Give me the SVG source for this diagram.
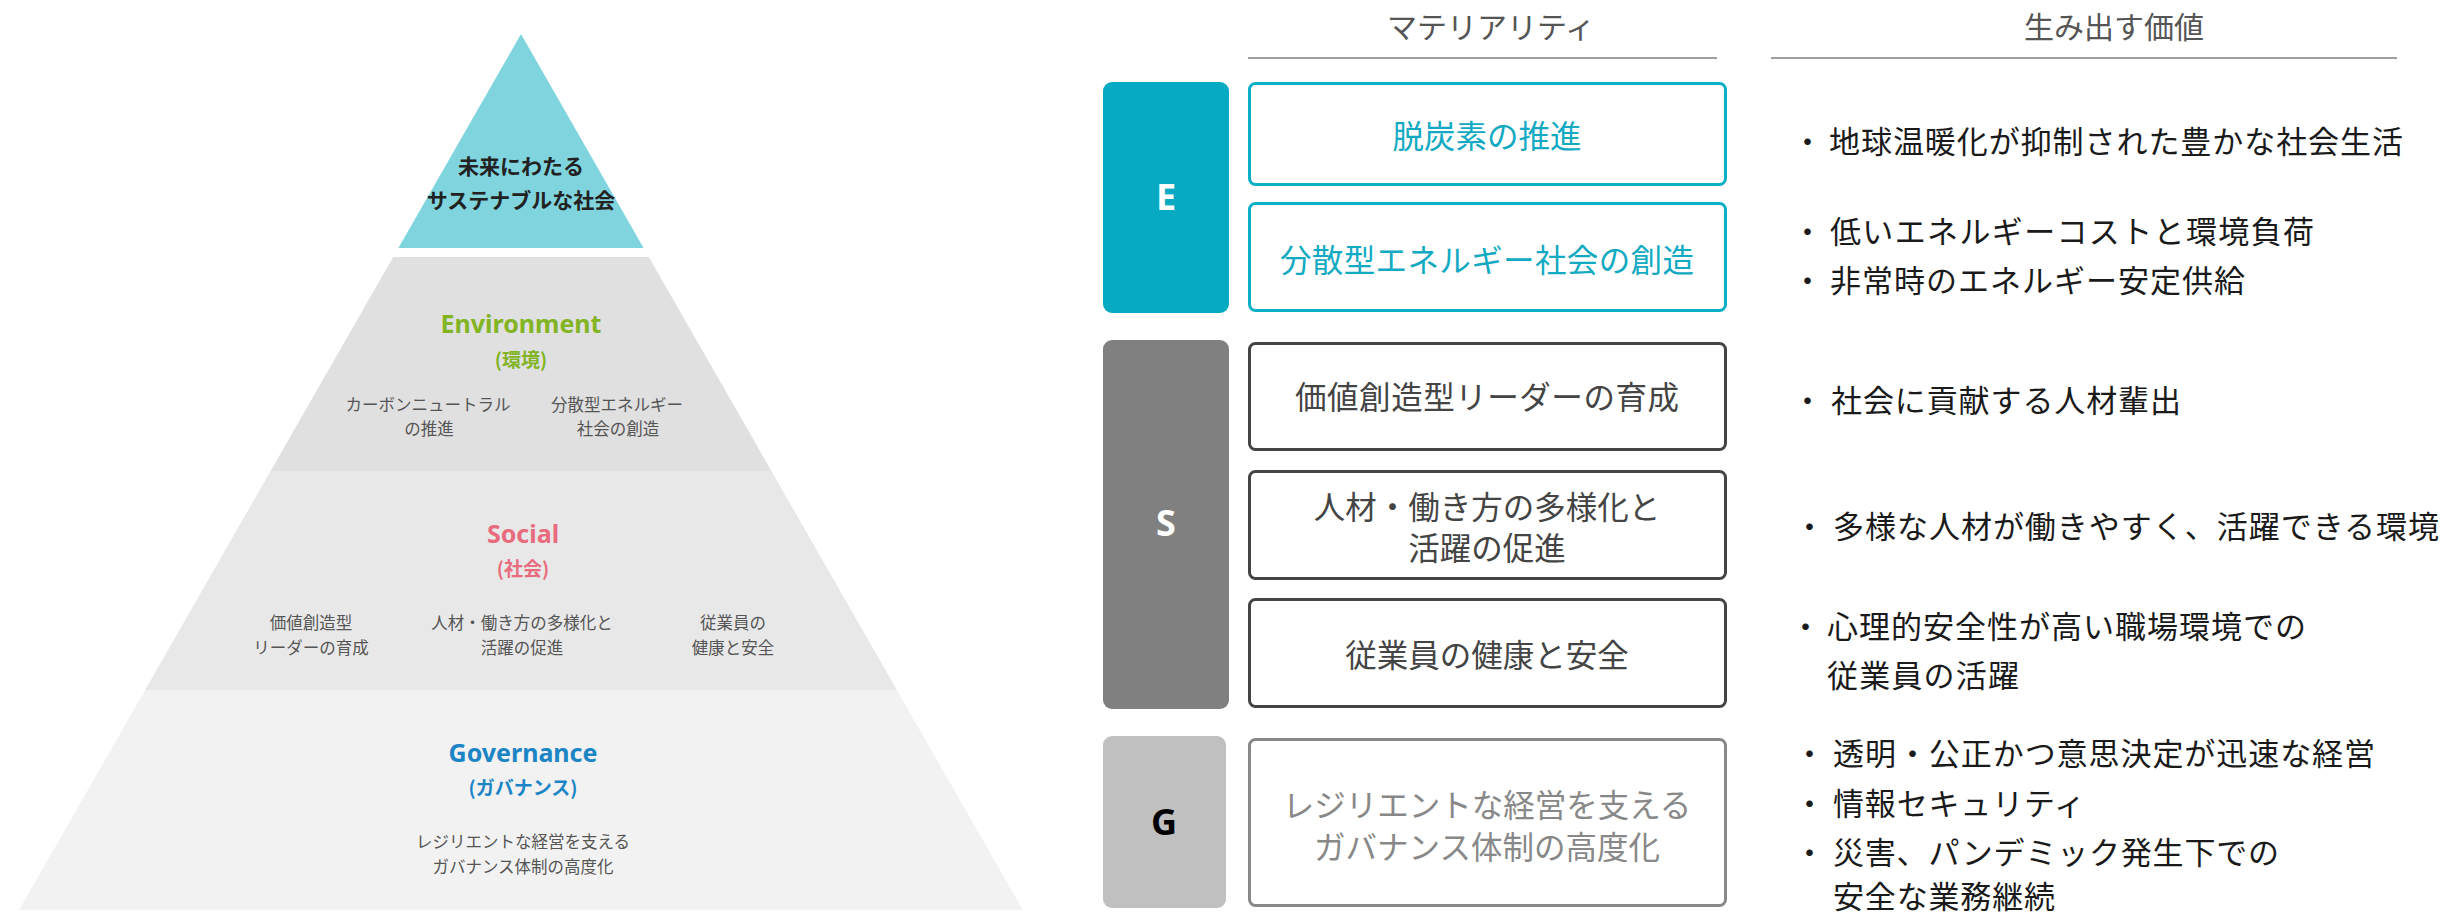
<svg xmlns="http://www.w3.org/2000/svg" width="2456" height="912" viewBox="0 0 2456 912">
<style>
text { font-family: "Noto Sans CJK JP", sans-serif; }
.lat { font-family: "Noto Sans", "Noto Sans CJK JP", sans-serif; }
.pt { font-size: 21px; font-weight: 700; fill: #222; text-anchor: middle; dominant-baseline: central; }
.pl { font-size: 25px; font-weight: 700; text-anchor: middle; }
.pp { font-size: 19px; font-weight: 700; text-anchor: middle; dominant-baseline: central; }
.ps { font-size: 16.5px; fill: #555; text-anchor: middle; dominant-baseline: central; }
.green { fill: #82b424; }
.pink { fill: #e86b7e; }
.blue { fill: #1b85c5; }
.hd { font-size: 30px; fill: #555; text-anchor: middle; dominant-baseline: central; }
.hline { stroke: #9e9e9e; stroke-width: 2; }
.cat { font-size: 36px; font-weight: 700; text-anchor: middle; }
.mb { fill: #fff; stroke-width: 3; }
.mbE { stroke: #0bafc6; }
.mbS { stroke: #444; }
.mbG { stroke: #888; }
.bx { font-size: 31.5px; text-anchor: middle; dominant-baseline: central; }
.bxE { fill: #12aac2; }
.bxS { fill: #444; }
.bxG { fill: #888; }
.val { font-size: 31px; fill: #1a1a1a; dominant-baseline: central; }
</style>

<g id="pyramid-top">
  <polygon points="521,34 643.6,248 398.4,248" fill="#7fd4de"/>
  <text class="pt" x="521" y="165">未来にわたる</text>
  <text class="pt" x="521" y="199">サステナブルな社会</text>
</g>

<g id="pyramid-environment">
  <polygon points="393.2,257 648.8,257 771.4,471 270.6,471" fill="#e0e0e0"/>
  <text class="lat pl green" x="521" y="333">Environment</text>
  <text class="pp green" x="521" y="358">(環境)</text>
  <text class="ps" x="428" y="404">カーボンニュートラル</text>
  <text class="ps" x="429" y="428">の推進</text>
  <text class="ps" x="617" y="404">分散型エネルギー</text>
  <text class="ps" x="618" y="428">社会の創造</text>
</g>

<g id="pyramid-social">
  <polygon points="270.6,471 771.4,471 896.9,690 145.1,690" fill="#e8e8e8"/>
  <text class="lat pl pink" x="523" y="543">Social</text>
  <text class="pp pink" x="523" y="567">(社会)</text>
  <text class="ps" x="311" y="622">価値創造型</text>
  <text class="ps" x="311" y="647">リーダーの育成</text>
  <text class="ps" x="522" y="622">人材・働き方の多様化と</text>
  <text class="ps" x="522" y="647">活躍の促進</text>
  <text class="ps" x="733" y="622">従業員の</text>
  <text class="ps" x="733" y="647">健康と安全</text>
</g>

<g id="pyramid-governance">
  <polygon points="145.1,690 896.9,690 1022.9,910 19.1,910" fill="#f2f2f2"/>
  <text class="lat pl blue" x="523" y="762">Governance</text>
  <text class="pp blue" x="523" y="786">(ガバナンス)</text>
  <text class="ps" x="523" y="841">レジリエントな経営を支える</text>
  <text class="ps" x="523" y="866">ガバナンス体制の高度化</text>
</g>

<g id="header-materiality">
  <text class="hd" x="1491" y="25">マテリアリティ</text>
  <line class="hline" x1="1248" y1="58" x2="1717" y2="58"/>
</g>

<g id="header-value">
  <text class="hd" x="2114" y="25">生み出す価値</text>
  <line class="hline" x1="1771" y1="58" x2="2397" y2="58"/>
</g>

<g id="cat-E">
  <rect x="1103" y="82" width="126" height="231" rx="9" fill="#06aac3"/>
  <text class="lat cat" x="1166" y="210" fill="#fff">E</text>
</g>
<g id="cat-S">
  <rect x="1103" y="340" width="126" height="369" rx="9" fill="#808080"/>
  <text class="lat cat" x="1166" y="536" fill="#fff">S</text>
</g>
<g id="cat-G">
  <rect x="1103" y="736" width="123" height="172" rx="9" fill="#c0c0c0"/>
  <text class="lat cat" x="1164" y="835" fill="#000">G</text>
</g>

<g id="mat-1">
  <rect class="mb mbE" x="1249.5" y="83.5" width="476" height="101" rx="6"/>
  <text class="bx bxE" x="1487" y="134">脱炭素の推進</text>
</g>
<g id="mat-2">
  <rect class="mb mbE" x="1249.5" y="203.5" width="476" height="107" rx="6"/>
  <text class="bx bxE" x="1487" y="258" textLength="414" lengthAdjust="spacing">分散型エネルギー社会の創造</text>
</g>
<g id="mat-3">
  <rect class="mb mbS" x="1249.5" y="343.5" width="476" height="106" rx="6"/>
  <text class="bx bxS" x="1487" y="395" textLength="384" lengthAdjust="spacing">価値創造型リーダーの育成</text>
</g>
<g id="mat-4">
  <rect class="mb mbS" x="1249.5" y="471.5" width="476" height="107" rx="6"/>
  <text class="bx bxS" x="1487" y="505">人材・働き方の多様化と</text>
  <text class="bx bxS" x="1487" y="546">活躍の促進</text>
</g>
<g id="mat-5">
  <rect class="mb mbS" x="1249.5" y="599.5" width="476" height="107" rx="6"/>
  <text class="bx bxS" x="1487" y="653">従業員の健康と安全</text>
</g>
<g id="mat-6">
  <rect class="mb mbG" x="1249.5" y="739.5" width="476" height="166" rx="6"/>
  <text class="bx bxG" x="1487" y="803">レジリエントな経営を支える</text>
  <text class="bx bxG" x="1487" y="845">ガバナンス体制の高度化</text>
</g>

<g id="values">
  <text class="val" y="139"><tspan x="1792">・</tspan><tspan x="1829" textLength="574" lengthAdjust="spacing">地球温暖化が抑制された豊かな社会生活</tspan></text>
  <text class="val" y="229"><tspan x="1792">・</tspan><tspan x="1830" textLength="484" lengthAdjust="spacing">低いエネルギーコストと環境負荷</tspan></text>
  <text class="val" y="278"><tspan x="1792">・</tspan><tspan x="1830" textLength="415" lengthAdjust="spacing">非常時のエネルギー安定供給</tspan></text>
  <text class="val" y="398"><tspan x="1792">・</tspan><tspan x="1831" textLength="350" lengthAdjust="spacing">社会に貢献する人材輩出</tspan></text>
  <text class="val" y="524"><tspan x="1794">・</tspan><tspan x="1833" textLength="606" lengthAdjust="spacing">多様な人材が働きやすく、活躍できる環境</tspan></text>
  <text class="val" y="624"><tspan x="1790">・</tspan><tspan x="1827" textLength="479" lengthAdjust="spacing">心理的安全性が高い職場環境での</tspan></text>
  <text class="val" y="673"><tspan x="1827" textLength="192" lengthAdjust="spacing">従業員の活躍</tspan></text>
  <text class="val" y="751"><tspan x="1794">・</tspan><tspan x="1833" textLength="542" lengthAdjust="spacing">透明・公正かつ意思決定が迅速な経営</tspan></text>
  <text class="val" y="801"><tspan x="1794">・</tspan><tspan x="1833" textLength="252" lengthAdjust="spacing">情報セキュリティ</tspan></text>
  <text class="val" y="850"><tspan x="1794">・</tspan><tspan x="1833" textLength="446" lengthAdjust="spacing">災害、パンデミック発生下での</tspan></text>
  <text class="val" y="894"><tspan x="1833" textLength="222" lengthAdjust="spacing">安全な業務継続</tspan></text>
</g>

<g id="connectors"/>
</svg>
